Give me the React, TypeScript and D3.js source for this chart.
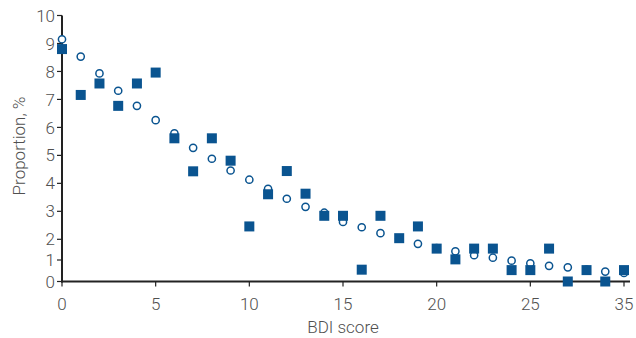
import React from "react";
import * as d3 from "d3";

// BDI score categories (last category is labelled 35 on the axis)
const scores = d3.range(0, 31);

// filled squares
const squareValues = [
  8.8, 7.16, 7.57, 6.77, 7.57, 7.96, 5.61, 4.43, 5.61, 4.81,
  2.46, 3.61, 4.44, 3.63, 2.84, 2.84, 0.55, 2.84, 2.04, 2.46,
  1.55, 1.03, 1.55, 1.55, 0.53, 0.53, 1.55, 0, 0.53, 0, 0.53,
];

// open circles
const circleValues = [
  9.15, 8.53, 7.93, 7.31, 6.77, 6.26, 5.79, 5.27, 4.88, 4.46,
  4.13, 3.8, 3.45, 3.16, 2.95, 2.62, 2.43, 2.22, 2.02, 1.78,
  1.58, 1.42, 1.23, 1.11, 0.97, 0.85, 0.73, 0.66, 0.55, 0.46, 0.4,
];

const xTicks = [0, 5, 10, 15, 20, 25, 30];
const xTickLabels = ["0", "5", "10", "15", "20", "25", "35"];
const yTicks = d3.range(0, 11);

const blue = "#0a5490";
const axisColor = "#222222";
const textColor = "#505050";
const font = "Roboto, 'Liberation Sans', sans-serif";

export default function App() {
  const width = 636;
  const height = 338;

  const x = d3.scaleLinear().domain([0, 30]).range([62, 624]);
  // the original axis squeezes the 0-2 band
  const y = d3.scaleLinear().domain([0, 1, 2, 10]).range([281.5, 260, 239.3, 15.5]);

  const sq = 10;

  return (
    <svg
      width={width}
      height={height}
      style={{ position: "absolute", left: 0, top: 0, background: "#fff" }}
    >
      {/* y axis */}
      <line x1={x(0)} x2={x(0)} y1={y(10)} y2={y(0) + 1} stroke={axisColor} strokeWidth={2} />
      {yTicks.map((t) => (
        <g key={"y" + t}>
          <line x1={x(0) - 5} x2={x(0)} y1={y(t)} y2={y(t)} stroke={axisColor} strokeWidth={1.2} />
          <text
            x={x(0) - 7}
            y={y(t)}
            dy="0.36em"
            textAnchor="end"
            fontFamily={font}
            fontWeight={300}
            fontSize={17}
            fill={textColor}
          >
            {t}
          </text>
        </g>
      ))}

      {/* x axis */}
      <line x1={x(0) - 1} x2={630} y1={y(0)} y2={y(0)} stroke={axisColor} strokeWidth={2} />
      {xTicks.map((t, i) => (
        <g key={"x" + t}>
          <line x1={x(t)} x2={x(t)} y1={y(0)} y2={y(0) + 5} stroke={axisColor} strokeWidth={1.2} />
          <text
            x={x(t)}
            y={y(0) + 22}
            dy="0.36em"
            textAnchor="middle"
            fontFamily={font}
            fontWeight={300}
            fontSize={17}
            fill={textColor}
          >
            {xTickLabels[i]}
          </text>
        </g>
      ))}

      {/* open circles */}
      {circleValues.map((v, i) => (
        <circle
          key={"c" + i}
          cx={x(scores[i])}
          cy={y(v)}
          r={3.6}
          fill="#fff"
          stroke={blue}
          strokeWidth={1.5}
        />
      ))}

      {/* filled squares */}
      {squareValues.map((v, i) => (
        <rect
          key={"s" + i}
          x={x(scores[i]) - sq / 2}
          y={y(v) - sq / 2}
          width={sq}
          height={sq}
          fill={blue}
        />
      ))}

      <text
        x={343}
        y={327}
        dy="0.36em"
        textAnchor="middle"
        fontFamily={font}
        fontWeight={300}
        fontSize={17}
        fill={textColor}
      >
        BDI score
      </text>
      <text
        transform={`translate(19,146) rotate(-90)`}
        dy="0.36em"
        textAnchor="middle"
        fontFamily={font}
        fontWeight={300}
        fontSize={17}
        fill={textColor}
      >
        Proportion, %
      </text>
    </svg>
  );
}
